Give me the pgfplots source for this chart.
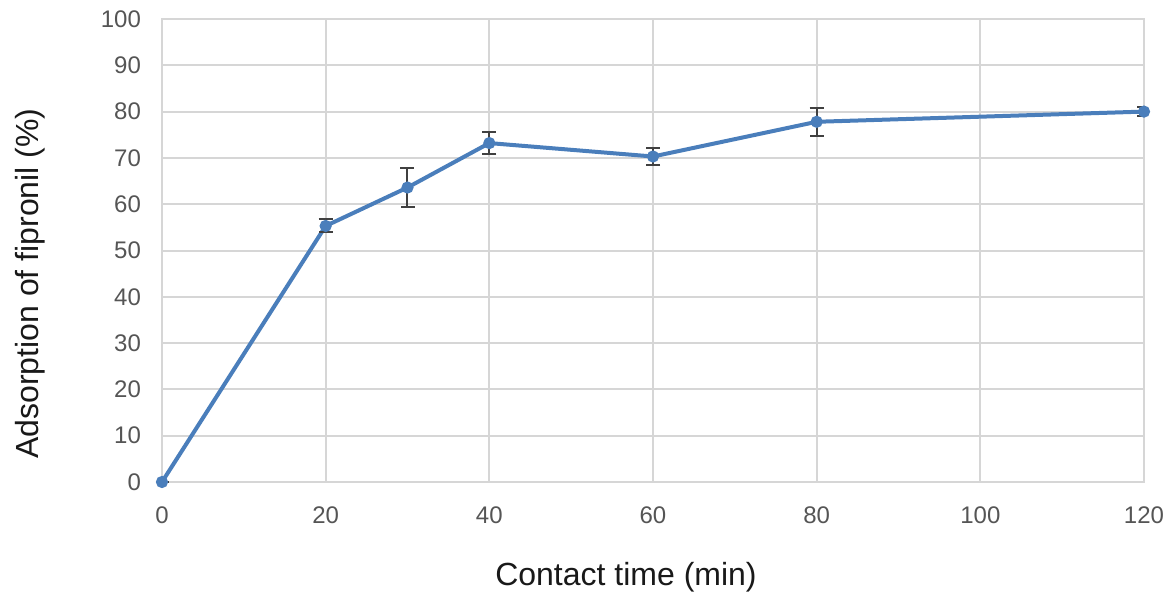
\documentclass[border=0pt]{standalone}
\usepackage{fontspec}
\setmainfont{Liberation Sans}
\usepackage{pgfplots}
\pgfplotsset{compat=1.18}
\definecolor{lineblue}{HTML}{4A7EBB}
\definecolor{gridgray}{HTML}{D6D6D6}
\definecolor{ticktext}{HTML}{555555}
\definecolor{errgray}{HTML}{404040}
\begin{document}
\begin{tikzpicture}
\begin{axis}[
  at={(0,0)}, anchor=south west,
  scale only axis,
  width=491pt, height=231.5pt,
  xmin=0, xmax=120, ymin=0, ymax=100,
  xtick={0,20,...,120}, ytick={0,10,...,100},
  grid=major,
  major grid style={gridgray, line width=1pt},
  axis line style={gridgray, line width=1pt},
  major tick length=0pt,
  /pgf/number format/assume math mode=true,
  ticklabel style={font=\fontsize{12}{14}\selectfont, text=ticktext},
  yticklabel style={xshift=-7pt},
  xticklabel style={yshift=-9pt},
  xlabel={Contact time (min)},
  ylabel={Adsorption of fipronil (\%)},
  label style={font=\fontsize{16}{19}\selectfont, text=black!90},
  xlabel style={at={(axis description cs:0.5,0)}, anchor=center, yshift=-47.5pt, xshift=-13.5pt},
  ylabel style={at={(axis description cs:0,0.5)}, anchor=center, yshift=66pt, xshift=-16.5pt},
]
\addplot[lineblue, line width=2pt, mark=*, mark size=2pt, mark options={fill=lineblue, draw=lineblue},
  error bars/.cd, y dir=both, y explicit,
  error bar style={errgray, line width=1pt},
  error mark options={rotate=90, errgray, line width=1pt, mark size=3.5pt}]
  table[x=x, y=y, y error=e] {
  x   y    e
  0   0    0
  20  55.3 1.4
  30  63.6 4.3
  40  73.2 2.3
  60  70.3 1.8
  80  77.8 3.0
  120 80.0 1.0
};
\end{axis}
\useasboundingbox (-81pt,-56.5pt) rectangle (506pt,241pt);
\end{tikzpicture}
\end{document}
